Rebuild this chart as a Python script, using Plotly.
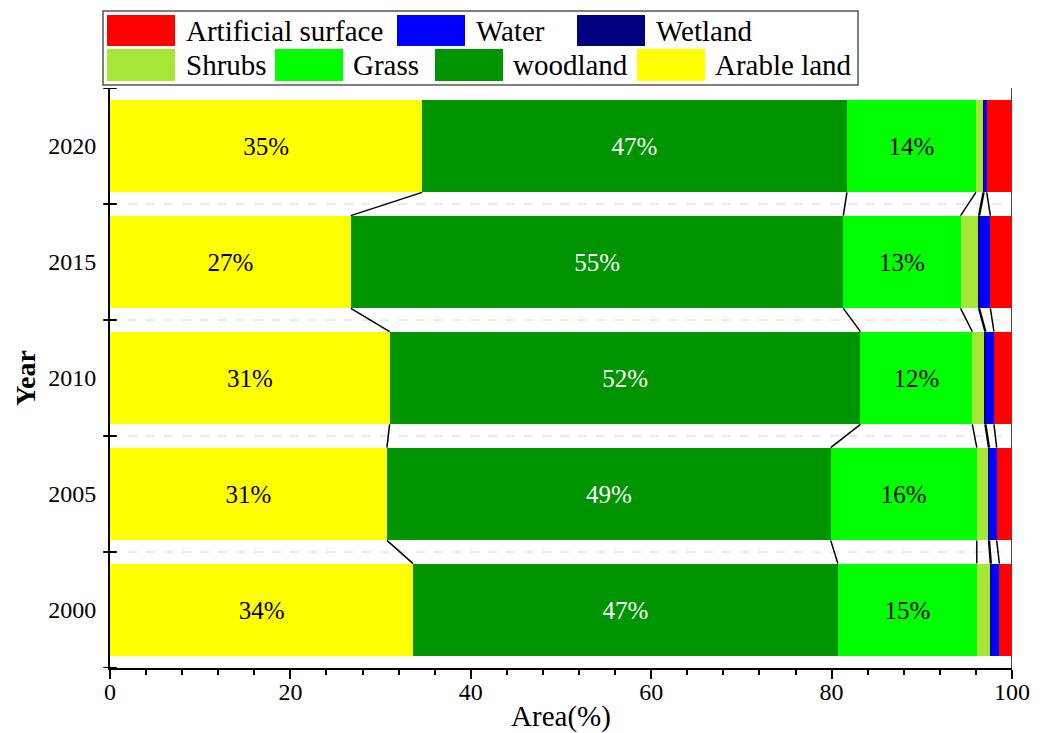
import plotly.graph_objects as go

# Land-use composition by year (percent of total area)
years = ["2000", "2005", "2010", "2015", "2020"]
classes = ["Arable land", "woodland", "Grass", "Shrubs", "Wetland", "Water", "Artificial surface"]
arable = [33.6, 30.7, 31.0, 26.7, 34.6]
woodland = [47.1, 49.2, 52.2, 54.6, 47.1]
grass = [15.4, 16.2, 12.4, 13.0, 14.3]
shrubs = [1.5, 1.3, 1.4, 2.0, 0.8]
wetland = [0.1, 0.1, 0.1, 0.1, 0.1]
water = [0.9, 0.8, 0.9, 1.2, 0.3]
artificial = [1.4, 1.7, 2.0, 2.4, 2.8]

series = [arable, woodland, grass, shrubs, wetland, water, artificial]
colors = ["#FFFF00", "#009400", "#00FF00", "#A6E637", "#000080", "#0000FF", "#FF0000"]
labelled = {"Arable land": "black", "woodland": "white", "Grass": "black"}

FONT = "Liberation Serif, Times New Roman, serif"
BAR_W = 0.8
ypos = list(range(len(years)))

fig = go.Figure()

for name, vals, col in zip(classes, series, colors):
    txt = [f"{v:.0f}%" for v in vals] if name in labelled else None
    fig.add_trace(go.Bar(
        y=ypos, x=vals, orientation="h", width=BAR_W, name=name,
        marker=dict(color=col, line=dict(width=0)),
        text=txt, textposition="inside" if txt else "none",
        insidetextanchor="middle", textangle=0,
        textfont=dict(family=FONT, size=25, color=labelled.get(name, "black")),
        hoverinfo="x+name", showlegend=False,
    ))

# connector lines joining segment boundaries of neighbouring years
cum = []
for i in range(len(years)):
    run, row = 0.0, []
    for vals in series[:-1]:
        run += vals[i]
        row.append(run)
    cum.append(row)

for i in range(len(years) - 1):
    for k in range(len(cum[i])):
        fig.add_trace(go.Scatter(
            x=[cum[i][k], cum[i + 1][k]],
            y=[ypos[i] + BAR_W / 2, ypos[i + 1] - BAR_W / 2],
            mode="lines", line=dict(color="black", width=1.5),
            hoverinfo="skip", showlegend=False,
        ))

shapes = []
bounds = [p - 0.5 for p in ypos] + [ypos[-1] + 0.5]
# dashed separators between years
for b in bounds[1:-1]:
    shapes.append(dict(type="line", xref="x", yref="y", x0=0, x1=100, y0=b, y1=b,
                       line=dict(color="#d6d6d6", width=1, dash="dash"), layer="below"))
# crossing ticks on the year axis
for b in bounds:
    shapes.append(dict(type="line", xref="paper", yref="y", x0=-0.0075, x1=0.0075,
                       y0=b, y1=b, line=dict(color="black", width=2)))
# right frame edge
shapes.append(dict(type="line", xref="x", yref="y", x0=100, x1=100,
                   y0=bounds[0], y1=bounds[-1], line=dict(color="#444444", width=2),
                   layer="below"))

# legend box, drawn as swatches with text in pixel layout
L, T, W, H = 110, 88, 902, 580
def px(x):
    return (x - L) / W
def py(y):
    return (T + H - y) / H

shapes.append(dict(type="rect", xref="paper", yref="paper",
                   x0=px(103), x1=px(858), y0=py(85), y1=py(11),
                   line=dict(color="#555555", width=1.5), fillcolor="white"))

legend_items = [
    ("Artificial surface", "#FF0000", 107, 184, 0),
    ("Water", "#0000FF", 397, 474, 0),
    ("Wetland", "#000080", 577, 654, 0),
    ("Shrubs", "#A6E637", 107, 184, 1),
    ("Grass", "#00FF00", 275, 351, 1),
    ("woodland", "#009400", 435, 511, 1),
    ("Arable land", "#FFFF00", 637, 713, 1),
]
annotations = []
for name, col, sx, tx, row in legend_items:
    y0, y1 = (15, 46) if row == 0 else (49, 81)
    shapes.append(dict(type="rect", xref="paper", yref="paper",
                       x0=px(sx), x1=px(sx + 68), y0=py(y1), y1=py(y0),
                       line=dict(width=0), fillcolor=col))
    annotations.append(dict(xref="paper", yref="paper", x=px(tx), y=py((y0 + y1) / 2),
                            text=name, showarrow=False, xanchor="left", yanchor="middle",
                            font=dict(family=FONT, size=29, color="black")))

fig.update_layout(
    width=1045, height=733,
    margin=dict(l=L, r=1045 - L - W, t=T, b=733 - T - H),
    paper_bgcolor="white", plot_bgcolor="white",
    barmode="stack", bargap=0.2,
    shapes=shapes, annotations=annotations,
    font=dict(family=FONT, color="black"),
    xaxis=dict(
        range=[0, 100], dtick=20, tick0=0, showgrid=False, zeroline=False,
        showline=True, linecolor="black", linewidth=2, automargin=False,
        ticks="outside", ticklen=9, tickwidth=2, tickcolor="black",
        minor=dict(dtick=4, ticks="outside", ticklen=5, tickwidth=2, tickcolor="black"),
        tickfont=dict(family=FONT, size=24), ticklabelstandoff=-8,
        title=dict(text="Area(%)", font=dict(family=FONT, size=29), standoff=16),
    ),
    yaxis=dict(
        range=[bounds[0], bounds[-1]], tickvals=ypos, ticktext=years,
        showgrid=False, zeroline=False, showline=True, linecolor="black", linewidth=2,
        automargin=False,
        ticks="", tickfont=dict(family=FONT, size=24), ticklabelstandoff=7,
        title=dict(text="<b>Year</b>", font=dict(family=FONT, size=28), standoff=4),
    ),
)

fig.write_html("out.html")
